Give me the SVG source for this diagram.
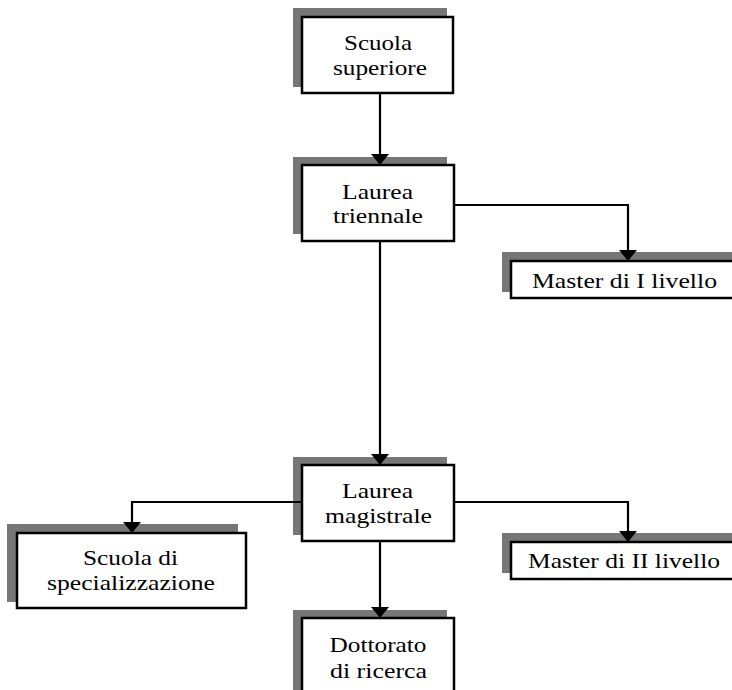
<svg xmlns="http://www.w3.org/2000/svg" width="732" height="690" viewBox="0 0 732 690">
<defs>
<style>
.sh{fill:#777777;}
.bx{fill:#ffffff;stroke:#000000;stroke-width:2.5;}
.t{font-family:"Liberation Serif","Times New Roman",serif;font-size:22px;fill:#000000;text-anchor:middle;}
.ln{fill:none;stroke:#000000;stroke-width:2.2;}
.ah{fill:#000000;}
</style>
<path id="head" d="M-9,-11 L9,-11 L0,0 Z"/>
</defs>
<rect width="732" height="690" fill="#ffffff"/>
<g id="scuola-superiore">
<rect class="sh" x="293" y="8" width="154" height="79"/>
<rect class="bx" x="302" y="17" width="151" height="76"/>
<text class="t" x="378" y="50" textLength="68" lengthAdjust="spacingAndGlyphs">Scuola</text>
<text class="t" x="380" y="75" textLength="94" lengthAdjust="spacingAndGlyphs">superiore</text>
</g>
<g id="laurea-triennale">
<rect class="sh" x="293" y="157" width="154" height="77"/>
<rect class="bx" x="302" y="165" width="152" height="76"/>
<text class="t" x="377.5" y="199" textLength="71" lengthAdjust="spacingAndGlyphs">Laurea</text>
<text class="t" x="378" y="223" textLength="90" lengthAdjust="spacingAndGlyphs">triennale</text>
</g>
<g id="master-i">
<rect class="sh" x="502" y="252" width="232" height="40"/>
<rect class="bx" x="511" y="261" width="224" height="37"/>
<text class="t" x="624.5" y="288" textLength="185" lengthAdjust="spacingAndGlyphs">Master di I livello</text>
</g>
<g id="laurea-magistrale">
<rect class="sh" x="293" y="457" width="154" height="78"/>
<rect class="bx" x="302" y="465" width="152" height="76"/>
<text class="t" x="377.5" y="498" textLength="71" lengthAdjust="spacingAndGlyphs">Laurea</text>
<text class="t" x="378.5" y="523" textLength="107" lengthAdjust="spacingAndGlyphs">magistrale</text>
</g>
<g id="master-ii">
<rect class="sh" x="502" y="533" width="232" height="40"/>
<rect class="bx" x="511" y="542" width="224" height="37"/>
<text class="t" x="624" y="568" textLength="192" lengthAdjust="spacingAndGlyphs">Master di II livello</text>
</g>
<g id="scuola-specializzazione">
<rect class="sh" x="7" y="524" width="231" height="78"/>
<rect class="bx" x="17" y="533" width="229" height="75"/>
<text class="t" x="130.5" y="565" textLength="95" lengthAdjust="spacingAndGlyphs">Scuola di</text>
<text class="t" x="131" y="590" textLength="168" lengthAdjust="spacingAndGlyphs">specializzazione</text>
</g>
<g id="dottorato">
<rect class="sh" x="293" y="610" width="154" height="90"/>
<rect class="bx" x="302" y="618" width="152" height="90"/>
<text class="t" x="378" y="652" textLength="97" lengthAdjust="spacingAndGlyphs">Dottorato</text>
<text class="t" x="378.5" y="678" textLength="97" lengthAdjust="spacingAndGlyphs">di ricerca</text>
</g>
<g id="connectors">
<path class="ln" d="M380,94 V156"/>
<path class="ln" d="M455,205 H628 V252"/>
<path class="ln" d="M380,242 V456"/>
<path class="ln" d="M455,502 H628 V533"/>
<path class="ln" d="M301,502 H132 V524"/>
<path class="ln" d="M380,542 V609"/>
<use href="#head" class="ah" x="380" y="165"/>
<use href="#head" class="ah" x="628" y="261"/>
<use href="#head" class="ah" x="380" y="465"/>
<use href="#head" class="ah" x="628" y="542"/>
<use href="#head" class="ah" x="132" y="533"/>
<use href="#head" class="ah" x="380" y="618"/>
</g>
</svg>
